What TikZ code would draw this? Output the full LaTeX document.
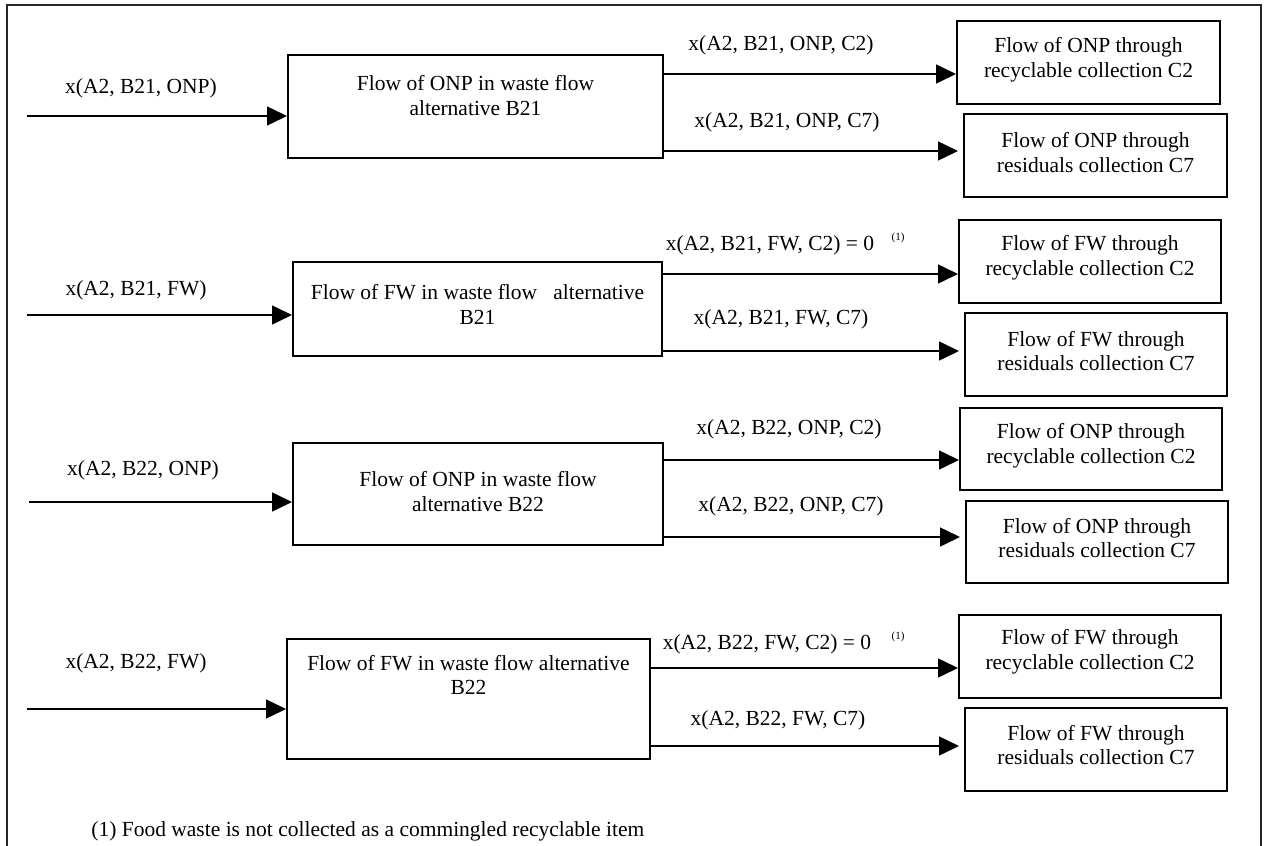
\documentclass[tikz,border=0pt]{standalone}
\usepackage{fontspec}
\setmainfont{Liberation Serif}
\usetikzlibrary{arrows.meta,fit}
\begin{document}
\begin{tikzpicture}[x=0.5pt,y=-0.5pt,
  flowbox/.style={draw, line width=1pt, inner sep=0pt, rectangle},
  txt/.style={font=\fontsize{10.75pt}{12.35pt}\selectfont, align=center, inner sep=0pt},
  flowarrow/.style={line width=0.75pt, -{Triangle[length=10pt,width=9.5pt]}},
  gap/.style={shorten >=2.5pt},
  note/.style={font=\fontsize{5.5pt}{6pt}\selectfont, inner sep=0pt}]
\useasboundingbox (0,0) rectangle (1266,846);
% outer frame (open at the bottom)
\draw[line width=0.8pt, black!85] (7,846) -- (7,5) -- (1261,5) -- (1261,846);

% ---------- ONP, alternative B21 ----------
\node[flowbox, fit={(288,55) (663,158)}] (b1) {};
\node[txt] (b1t) at (475.5,95.5) {Flow of ONP in waste flow\\alternative B21};
\node[flowbox, fit={(957,21) (1220,104)}] (c12) {};
\node[txt] (c12t) at (1088.5,59.5) {Flow of ONP through\\recyclable collection C2};
\node[flowbox, fit={(964,114) (1227,197)}] (c17) {};
\node[txt] (c17t) at (1095.5,152.5) {Flow of ONP through\\residuals collection C7};
\coordinate (in1) at (27,116);
\coordinate (y1a) at (0,74);
\coordinate (y1b) at (0,151);
\draw[flowarrow] (in1) -- (in1 -| b1.west);
\draw[flowarrow] (b1.east |- y1a) -- (c12.west |- y1a);
\draw[flowarrow, gap] (b1.east |- y1b) -- (c17.west |- y1b);
\node[txt] (l1) at (141,88) {x(A2, B21, ONP)};
\node[txt] (l12) at (781,45) {x(A2, B21, ONP, C2)};
\node[txt] (l17) at (787,122) {x(A2, B21, ONP, C7)};

% ---------- FW, alternative B21 ----------
\node[flowbox, fit={(293,262) (662,356)}] (b2) {};
\node[txt] (b2t) at (477.5,304.5) {Flow of FW in waste flow\ \ \ alternative\\B21};
\node[flowbox, fit={(959,220) (1221,303)}] (c22) {};
\node[txt] (c22t) at (1090,258) {Flow of FW through\\recyclable collection C2};
\node[flowbox, fit={(965,313) (1227,396)}] (c27) {};
\node[txt] (c27t) at (1096,351) {Flow of FW through\\residuals collection C7};
\coordinate (in2) at (27,315);
\coordinate (y2a) at (0,274);
\coordinate (y2b) at (0,351);
\draw[flowarrow] (in2) -- (in2 -| b2.west);
\draw[flowarrow] (b2.east |- y2a) -- (c22.west |- y2a);
\draw[flowarrow, gap] (b2.east |- y2b) -- (c27.west |- y2b);
\node[txt] (l2) at (136,290) {x(A2, B21, FW)};
\node[txt] (l22) at (770,245) {x(A2, B21, FW, C2) = 0};
\node[note] (n22) at (898,238) {(1)};
\node[txt] (l27) at (781,319) {x(A2, B21, FW, C7)};

% ---------- ONP, alternative B22 ----------
\node[flowbox, fit={(293,443) (663,545)}] (b3) {};
\node[txt] (b3t) at (478,491.5) {Flow of ONP in waste flow\\alternative B22};
\node[flowbox, fit={(960,408) (1222,490)}] (c32) {};
\node[txt] (c32t) at (1091,445.5) {Flow of ONP through\\recyclable collection C2};
\node[flowbox, fit={(966,501) (1228,583)}] (c37) {};
\node[txt] (c37t) at (1097,538) {Flow of ONP through\\residuals collection C7};
\coordinate (in3) at (29,502);
\coordinate (y3a) at (0,460);
\coordinate (y3b) at (0,537);
\draw[flowarrow] (in3) -- (in3 -| b3.west);
\draw[flowarrow] (b3.east |- y3a) -- (c32.west |- y3a);
\draw[flowarrow, gap] (b3.east |- y3b) -- (c37.west |- y3b);
\node[txt] (l3) at (143,470) {x(A2, B22, ONP)};
\node[txt] (l32) at (789,429) {x(A2, B22, ONP, C2)};
\node[txt] (l37) at (791,506) {x(A2, B22, ONP, C7)};

% ---------- FW, alternative B22 ----------
\node[flowbox, fit={(287,639) (650,759)}] (b4) {};
\node[txt] (b4t) at (468.5,675) {Flow of FW in waste flow alternative\\B22};
\node[flowbox, fit={(959,615) (1221,698)}] (c42) {};
\node[txt] (c42t) at (1090,652) {Flow of FW through\\recyclable collection C2};
\node[flowbox, fit={(965,708) (1227,791)}] (c47) {};
\node[txt] (c47t) at (1096,745) {Flow of FW through\\residuals collection C7};
\coordinate (in4) at (27,709);
\coordinate (y4a) at (0,668);
\coordinate (y4b) at (0,746);
\draw[flowarrow] (in4) -- (in4 -| b4.west);
\draw[flowarrow] (b4.east |- y4a) -- (c42.west |- y4a);
\draw[flowarrow, gap] (b4.east |- y4b) -- (c47.west |- y4b);
\node[txt] (l4) at (136,663) {x(A2, B22, FW)};
\node[txt] (l42) at (767,644) {x(A2, B22, FW, C2) = 0};
\node[note] (n42) at (898,637) {(1)};
\node[txt] (l47) at (778,720) {x(A2, B22, FW, C7)};

% footnote
\node[txt, anchor=west] (fn) at (91,831) {(1) Food waste is not collected as a commingled recyclable item};
\end{tikzpicture}
\end{document}
